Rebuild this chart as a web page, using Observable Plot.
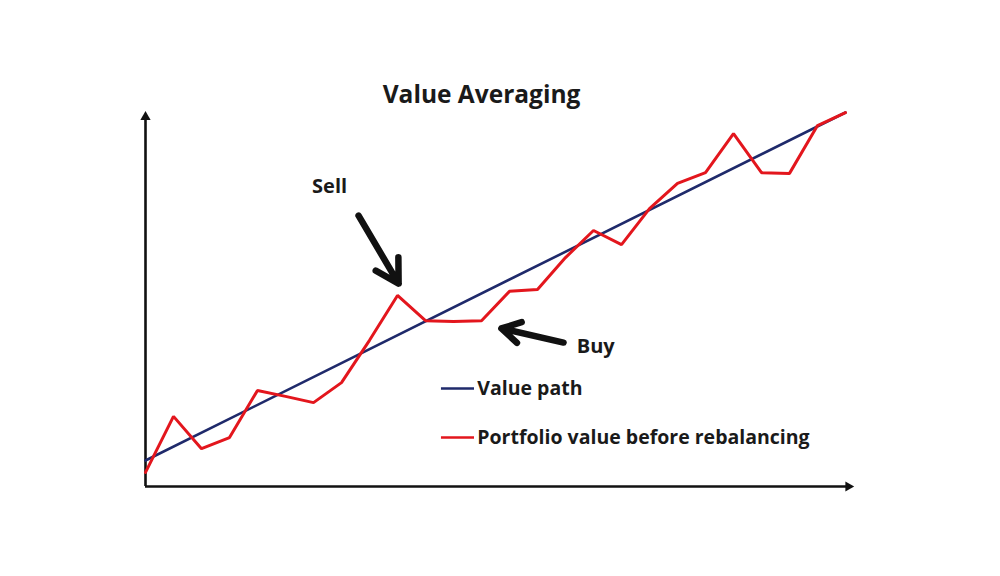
<!DOCTYPE html>
<html>
<head>
<meta charset="utf-8">
<script src="https://cdn.jsdelivr.net/npm/d3@7"></script>
<script src="https://cdn.jsdelivr.net/npm/@observablehq/plot@0.6"></script>
<style>
  html, body { margin: 0; padding: 0; background: #ffffff; }
  #chart svg { display: block; }
</style>
</head>
<body>
<div id="chart"></div>
<script>
// ---- data ----
const periods = d3.range(0, 26);
const portfolioValue = [3.8, 18.9, 10.2, 13.2, 25.9, 24.3, 22.6, 28.0, 39.4, 51.5, 44.7, 44.5, 44.7,
  52.6, 53.1, 61.7, 69.0, 65.2, 74.9, 81.7, 84.6, 95.1, 84.6, 84.4, 97.3, 100.8];
const valuePathPeriods = [0, 25];
const valuePathValues = [7.0, 100.8];

const titleText = "Value Averaging";
const legendLabels = ["Value path", "Portfolio value before rebalancing"];
const legendY = [26.4, 13.2];
const legendColors = ["#1f2a6b", "#e3161d"];

const annotationLabels = ["Sell", "Buy"];
const annotationX = [5.95, 15.4];
const annotationY = [80.9, 37.8];
const arrowFrom = [[7.61, 73.0], [14.93, 38.8]];
const arrowTo = [[9.04, 54.7], [12.71, 42.6]];

const xDomain = [0, 25];
const yDomain = [0, 100];
const axisEnds = { x: 25.1, y: 99.6 };

// ---- build tables ----
const portfolio = periods.map((p, i) => ({ x: p, y: portfolioValue[i] }));
const valuePath = valuePathPeriods.map((p, i) => ({ x: p, y: valuePathValues[i] }));
const legend = legendLabels.map((t, i) => ({ label: t, y: legendY[i], color: legendColors[i] }));
const annotations = annotationLabels.map((t, i) => ({ label: t, x: annotationX[i], y: annotationY[i] }));
const arrows = arrowFrom.map((f, i) => ({ x1: f[0], y1: f[1], x2: arrowTo[i][0], y2: arrowTo[i][1] }));

const font = "'Open Sans', Lato, sans-serif";

const chart = Plot.plot({
  width: 1000,
  height: 576,
  marginLeft: 145,
  marginRight: 155,
  marginTop: 115,
  marginBottom: 90,
  x: { domain: xDomain, axis: null },
  y: { domain: yDomain, axis: null },
  style: { fontFamily: font, background: "#ffffff", overflow: "visible" },
  marks: [
    // axes
    Plot.ruleY([0], { x1: 0, x2: axisEnds.x, stroke: "#111", strokeWidth: 2.6 }),
    Plot.ruleX([0], { y1: 0, y2: axisEnds.y, stroke: "#111", strokeWidth: 2.6 }),
    Plot.dot([{ x: axisEnds.x, y: 0 }], { x: "x", y: "y", symbol: "triangle", r: 3.8, fill: "#111", stroke: null, rotate: 90 }),
    Plot.dot([{ x: 0, y: axisEnds.y }], { x: "x", y: "y", symbol: "triangle", r: 3.8, fill: "#111", stroke: null, rotate: 0 }),
    // series
    Plot.line(valuePath, { x: "x", y: "y", stroke: legendColors[0], strokeWidth: 2.6 }),
    Plot.line(portfolio, { x: "x", y: "y", stroke: legendColors[1], strokeWidth: 3, strokeLinejoin: "miter" }),
    // legend
    Plot.ruleY(legend, { y: "y", x1: 10.57, x2: 11.75, stroke: "color", strokeWidth: 2.6 }),
    Plot.text(legend, { x: 11.85, y: "y", text: "label", textAnchor: "start", fontSize: 19.5, fontWeight: "bold", fill: "#1a1a1a" }),
    // annotations
    Plot.arrow(arrows, { x1: "x1", y1: "y1", x2: "x2", y2: "y2", stroke: "#111", strokeWidth: 6.5, headLength: 8, strokeLinecap: "round", strokeLinejoin: "round" }),
    Plot.text(annotations, { x: "x", y: "y", text: "label", fontSize: 20, fontWeight: "bold", fill: "#1a1a1a", textAnchor: "start" }),
    // title
    Plot.text([titleText], { x: 12.0, y: 105.5, text: d => d, fontSize: 24.5, fontWeight: "bold", fill: "#1a1a1a" })
  ]
});
document.getElementById("chart").appendChild(chart);
</script>
</body>
</html>
